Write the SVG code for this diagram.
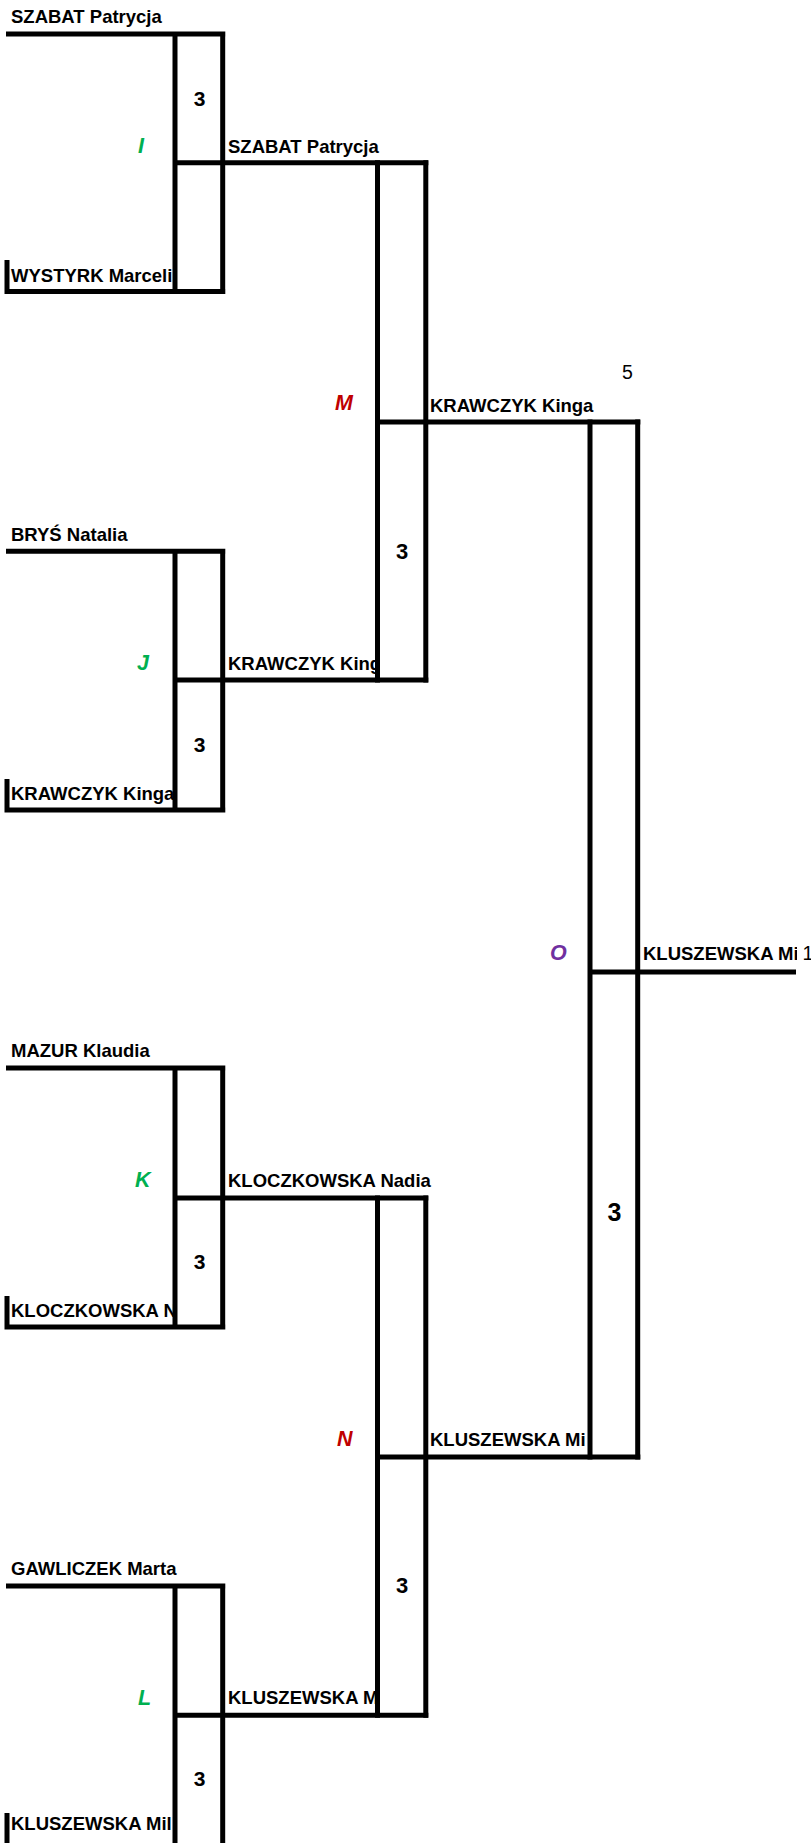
<svg xmlns="http://www.w3.org/2000/svg" width="811" height="1843" viewBox="0 0 811 1843">
<style>
.ln{stroke:#000;stroke-width:5;fill:none;stroke-linecap:butt}
.nm{font-family:"Liberation Sans",Arial,sans-serif;font-weight:bold;font-size:18.5px;fill:#000}
.sc{font-family:"Liberation Sans",Arial,sans-serif;font-weight:bold;fill:#000;text-anchor:middle}
.lb{font-family:"Liberation Sans",Arial,sans-serif;font-weight:bold;font-style:italic;font-size:21.5px}
.g{fill:#00B050}.r{fill:#C00000}.p{fill:#7030A0}
.rk{font-family:"Liberation Sans",Arial,sans-serif;font-size:19.5px;fill:#000}
</style>
<defs>
<clipPath id="c1"><rect x="0" y="0" width="173" height="1843"/></clipPath>
<clipPath id="c2"><rect x="0" y="0" width="375" height="1843"/></clipPath>
<clipPath id="c3"><rect x="0" y="0" width="587.5" height="1843"/></clipPath>
<clipPath id="c4"><rect x="0" y="0" width="797" height="1843"/></clipPath>
</defs>
<rect width="811" height="1843" fill="#fff"/>
<g id="connectors">
<path class="ln" d="M6 34H225.3M4.7 291.5H225.3M175 31.5V294M222.7 31.5V294M7 260V294M172.5 162.8H428.3"/>
<path class="ln" d="M6 551.3H225.3M4.7 810H225.3M175 548.8V812.5M222.7 548.8V812.5M7 779V812.5M172.5 680H428.3"/>
<path class="ln" d="M6 1068H225.3M4.7 1327H225.3M175 1065.5V1329.5M222.7 1065.5V1329.5M7 1296V1329.5M172.5 1198H428.3"/>
<path class="ln" d="M6 1586H225.3M4.7 1846H225.3M175 1583.5V1848.5M222.7 1583.5V1848.5M7 1813V1848.5M172.5 1715.3H428.3"/>
<path class="ln" d="M377.5 160.3V682.5M425.8 160.3V682.5M375 422H640.3"/>
<path class="ln" d="M377.5 1195.5V1717.8M425.8 1195.5V1717.8M375 1457H640.3"/>
<path class="ln" d="M590 419.5V1459.5M637.7 419.5V1459.5M587.5 972H796"/>
</g>
<g id="match-I">
<text class="nm" x="11" y="22.7">SZABAT Patrycja</text>
<text class="nm" x="11" y="282" clip-path="url(#c1)">WYSTYRK Marceli</text>
<text class="sc" x="199.5" y="106" font-size="21">3</text>
<text class="lb g" x="138" y="153">I</text>
</g>
<g id="match-J">
<text class="nm" x="11" y="540.7">BRYŚ Natalia</text>
<text class="nm" x="11" y="800" clip-path="url(#c1)">KRAWCZYK Kinga</text>
<text class="sc" x="199.5" y="752" font-size="21">3</text>
<text class="lb g" x="137" y="670">J</text>
</g>
<g id="match-K">
<text class="nm" x="11" y="1057">MAZUR Klaudia</text>
<text class="nm" x="11" y="1317" clip-path="url(#c1)">KLOCZKOWSKA Nadia</text>
<text class="sc" x="199.5" y="1269" font-size="21">3</text>
<text class="lb g" x="135" y="1187">K</text>
</g>
<g id="match-L">
<text class="nm" x="11" y="1575">GAWLICZEK Marta</text>
<text class="nm" x="11" y="1830" clip-path="url(#c1)">KLUSZEWSKA Mil</text>
<text class="sc" x="199.5" y="1786" font-size="21">3</text>
<text class="lb g" x="138" y="1705">L</text>
</g>
<g id="match-M">
<text class="nm" x="228" y="152.7">SZABAT Patrycja</text>
<text class="nm" x="228" y="670" clip-path="url(#c2)">KRAWCZYK Kinga</text>
<text class="sc" x="402" y="559" font-size="22">3</text>
<text class="lb r" x="335" y="410">M</text>
</g>
<g id="match-N">
<text class="nm" x="228" y="1187">KLOCZKOWSKA Nadia</text>
<text class="nm" x="228" y="1704" clip-path="url(#c2)">KLUSZEWSKA Mil</text>
<text class="sc" x="402" y="1593" font-size="22">3</text>
<text class="lb r" x="337" y="1446">N</text>
</g>
<g id="match-O">
<text class="nm" x="430" y="411.7">KRAWCZYK Kinga</text>
<text class="nm" x="430" y="1446" clip-path="url(#c3)">KLUSZEWSKA Mi</text>
<text class="sc" x="614.5" y="1221" font-size="25">3</text>
<text class="lb p" x="550" y="960">O</text>
<text class="rk" x="622" y="379">5</text>
</g>
<g id="final">
<text class="nm" x="643" y="959.5" clip-path="url(#c4)">KLUSZEWSKA Mil</text>
<text class="rk" x="802.5" y="959.5">1</text>
</g>
</svg>
